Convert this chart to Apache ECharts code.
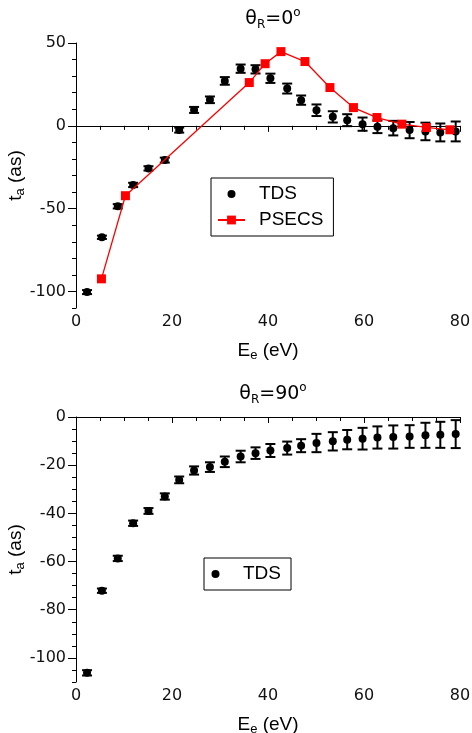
<!DOCTYPE html>
<html><head><meta charset="utf-8">
<script src="https://cdn.jsdelivr.net/npm/echarts@6/dist/echarts.min.js"></script>
<style>html,body{margin:0;padding:0;background:#fff}#c{width:472px;height:733px}</style>
</head><body><div id="c"></div>
<script>
// ---- data ----
const energy = [2.3,5.4,8.7,11.9,15.1,18.5,21.5,24.6,27.9,31.0,34.3,37.4,40.5,44.0,46.9,50.1,53.5,56.5,59.7,62.8,66.1,69.5,72.8,75.9,79.1];
const tdsTop = [-100.4,-67.3,-48.6,-35.7,-25.7,-20.7,-2.6,9.6,15.7,27.1,34.5,34.1,28.7,22.5,15.5,9.4,5.4,3.4,1.0,-0.6,-1.4,-2.6,-3.4,-4.0,-3.4];
const tdsTopErr = [1.2,1.0,1.3,1.3,1.3,1.5,1.5,1.8,2.0,2.3,2.5,2.5,2.8,3.0,2.8,3.5,3.4,3.6,4.0,3.8,4.4,4.9,5.3,5.4,6.0];
const psecsEnergy = [5.3,10.3,36.1,39.4,42.7,47.7,52.9,57.8,62.7,67.9,73.0,77.9];
const psecsTop = [-92.4,-42.2,26.1,37.5,44.8,38.8,23.1,11.0,5.0,1.0,-1.0,-2.4];
const tdsBottom = [-106.2,-72.1,-58.7,-44.1,-39.0,-33.0,-26.1,-22.2,-20.8,-18.6,-16.4,-15.0,-13.9,-12.9,-11.9,-10.8,-10.1,-9.4,-9.0,-8.5,-8.3,-8.1,-7.6,-7.4,-7.1];
const tdsBottomErr = [1.1,0.9,1.1,1.1,1.2,1.3,1.4,1.7,2.0,2.2,2.4,2.4,2.7,2.7,2.7,3.8,3.8,4.0,4.5,4.6,4.8,4.7,5.2,5.4,5.8];
const yTopLabels = [-100,-50,0,50];
const yBottomLabels = [-100,-80,-60,-40,-20,0];
const seriesNames = ['TDS','PSECS'];
const titleTop = '{t|θ}{s|R}{t|=0}{p|o}';
const titleBottom = '{t|θ}{s|R}{t|=90}{p|o}';
const xName = 'E{s|e} (eV)';
const yName = 't{s|a} (as)';

// ---- chart ----
const chart = echarts.init(document.getElementById('c'), null, {renderer:'canvas'});
const tickFont = {fontFamily:'DejaVu Sans', fontSize:16, color:'#111'};
const nameStyle = {fontFamily:'Liberation Sans', fontSize:19, color:'#000', lineHeight:22,
  rich:{s:{fontFamily:'Liberation Sans', fontSize:13, lineHeight:13, verticalAlign:'bottom', color:'#000'}}};
const titleRich = {
  t:{fontFamily:'DejaVu Sans', fontSize:19, fontWeight:'normal', lineHeight:24, color:'#000'},
  s:{fontFamily:'DejaVu Sans', fontSize:12, fontWeight:'normal', lineHeight:14, verticalAlign:'bottom', color:'#000'},
  p:{fontFamily:'DejaVu Sans', fontSize:12, fontWeight:'normal', lineHeight:17, verticalAlign:'top', color:'#000'}
};
const axisLine = {show:true, lineStyle:{color:'#000', width:1}};
const dotIcon = 'path://M0,0M11,11M1.5,5.5A4,4,0,1,1,9.5,5.5A4,4,0,1,1,1.5,5.5Z';

function xAxisCfg(gi){
  return {type:'value', gridIndex:gi, min:0, max:80, interval:20,
    name:xName, nameLocation:'middle', nameGap:32, nameMoveOverlap:false, nameTextStyle:nameStyle,
    axisLine:axisLine, axisTick:{show:true, length:6, lineStyle:{color:'#000'}},
    minorTick:{show:true, splitNumber:4, length:4, lineStyle:{color:'#000'}},
    axisLabel:Object.assign({margin:6}, tickFont), splitLine:{show:false}};
}
function yAxisMain(gi, min, max, labels){
  return {type:'value', gridIndex:gi, position:'left', min:min, max:max,
    name:yName, nameLocation:'middle', nameGap:49, nameMoveOverlap:false, nameTextStyle:nameStyle,
    axisLine:axisLine,
    axisTick:{show:true, length:8, customValues:labels, lineStyle:{color:'#000'}},
    axisLabel:Object.assign({margin:10, customValues:labels}, tickFont),
    splitLine:{show:false}};
}
function yAxisMinor(gi, min, max, step){
  return {type:'value', gridIndex:gi, position:'left', offset:0, min:min, max:max, interval:step,
    axisLine:{show:false}, axisTick:{show:true, length:4, lineStyle:{color:'#000'}},
    axisLabel:{show:false}, splitLine:{show:false}};
}
function errRender(params, api){
  const x = api.value(0), y = api.value(1), e = api.value(2);
  const lo = api.coord([x, y - e]), hi = api.coord([x, y + e]);
  const hw = 5;
  const st = {stroke:'#000', lineWidth:2};
  return {type:'group', children:[
    {type:'line', shape:{x1:lo[0], y1:lo[1], x2:hi[0], y2:hi[1]}, style:st},
    {type:'line', shape:{x1:lo[0]-hw, y1:lo[1], x2:lo[0]+hw, y2:lo[1]}, style:st},
    {type:'line', shape:{x1:hi[0]-hw, y1:hi[1], x2:hi[0]+hw, y2:hi[1]}, style:st}
  ]};
}
const zip2 = (a,b)=>a.map((v,i)=>[v,b[i]]);
const zip3 = (a,b,c)=>a.map((v,i)=>[v,b[i],c[i]]);

const legendBase = {orient:'vertical', itemWidth:27, itemHeight:11, itemGap:4,
  padding:[5,10,5,6], borderColor:'#000', borderWidth:1, selectedMode:false,
  textStyle:{fontFamily:'Liberation Sans', fontSize:19, color:'#000', lineHeight:22, padding:[0,0,0,9]}};

chart.setOption({
  animation:false,
  backgroundColor:'#fff',
  title:[
    {text:titleTop, left:273, top:7, padding:0, textAlign:'center', textStyle:{fontWeight:'normal', rich:titleRich}},
    {text:titleBottom, left:273, top:382, padding:0, textAlign:'center', textStyle:{fontWeight:'normal', rich:titleRich}}
  ],
  legend:[
    Object.assign({}, legendBase, {left:211, top:178, data:[{name:seriesNames[0], icon:dotIcon}, seriesNames[1]]}),
    Object.assign({}, legendBase, {left:204, top:558, data:[{name:seriesNames[0], icon:dotIcon}]})
  ],
  grid:[
    {left:76, right:12, top:43, height:265, containLabel:false, outerBoundsMode:'none'},
    {left:76, right:12, top:417, height:265, containLabel:false, outerBoundsMode:'none'}
  ],
  xAxis:[xAxisCfg(0), xAxisCfg(1)],
  yAxis:[
    yAxisMain(0, -110, 50, yTopLabels), yAxisMinor(0, -110, 50, 10),
    yAxisMain(1, -110, 0, yBottomLabels), yAxisMinor(1, -110, 0, 5)
  ],
  series:[
    {name:'TDS error top', type:'custom', xAxisIndex:0, yAxisIndex:0, renderItem:errRender,
      data:zip3(energy, tdsTop, tdsTopErr), z:2, silent:true},
    {name:seriesNames[0], type:'scatter', xAxisIndex:0, yAxisIndex:0, symbol:'circle', symbolSize:8,
      itemStyle:{color:'#000', opacity:1}, data:zip2(energy, tdsTop), z:3},
    {name:seriesNames[1], type:'line', xAxisIndex:0, yAxisIndex:0, symbol:'rect', symbolSize:9,
      itemStyle:{color:'#ff0000'}, lineStyle:{color:'#ff0000', width:1.3}, data:zip2(psecsEnergy, psecsTop), z:4},
    {name:'TDS error bottom', type:'custom', xAxisIndex:1, yAxisIndex:2, renderItem:errRender,
      data:zip3(energy, tdsBottom, tdsBottomErr), z:2, silent:true},
    {name:seriesNames[0], type:'scatter', xAxisIndex:1, yAxisIndex:2, symbol:'circle', symbolSize:8,
      itemStyle:{color:'#000', opacity:1}, data:zip2(energy, tdsBottom), z:3}
  ]
});
</script>
</body></html>
